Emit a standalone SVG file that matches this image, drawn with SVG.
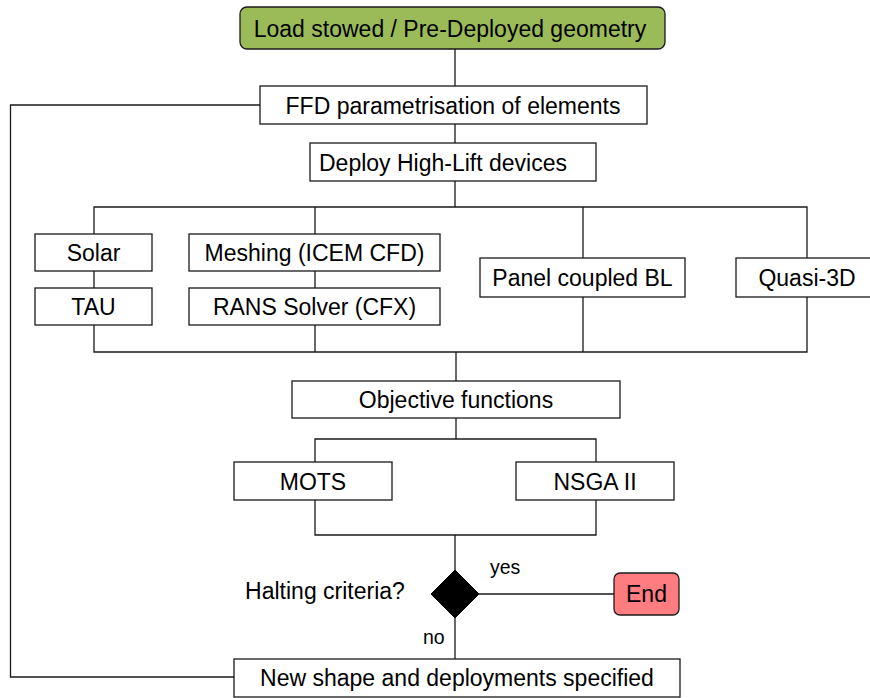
<svg xmlns="http://www.w3.org/2000/svg" width="870" height="698" viewBox="0 0 870 698">
<style>
.box{fill:#ffffff;stroke:#1a1a1a;stroke-width:1.3}
.t{font-family:"Liberation Sans",Arial,sans-serif;font-size:23px;fill:#000;text-anchor:middle}
.s{font-family:"Liberation Sans",Arial,sans-serif;font-size:19.5px;fill:#000}
.c{fill:none;stroke:#1a1a1a;stroke-width:1.3}
</style>
<rect width="870" height="698" fill="#ffffff"/>
<g id="connectors">
<path class="c" d="M455,49 V86 M455,124 V143 M455,181 V207"/>
<path class="c" d="M94,234 V207 H807 V258 M315,207 V234 M583,207 V258"/>
<path class="c" d="M94,271 V288 M315,271 V288"/>
<path class="c" d="M94,325 V352 H807 V297 M315,325 V352 M583,297 V352"/>
<path class="c" d="M456,352 V381 M456,418 V439"/>
<path class="c" d="M315,462 V439 H596 V462"/>
<path class="c" d="M315,500 V535 H596 V500 M455,535 V570"/>
<path class="c" d="M479,594 H614"/>
<path class="c" d="M455,618 V659"/>
<path class="c" d="M234,677 H10.5 V105 H260"/>
</g>
<g id="n-load"><rect x="240" y="7" width="425" height="42" rx="7" fill="#9BBB59" stroke="#1a1a1a" stroke-width="1.3"/><text class="t" x="450" y="36.5">Load stowed / Pre-Deployed geometry</text></g>
<g id="n-ffd"><rect class="box" x="260" y="86" width="387" height="38"/><text class="t" x="453" y="113.5">FFD parametrisation of elements</text></g>
<g id="n-deploy"><rect class="box" x="310" y="143" width="286" height="38"/><text class="t" x="443" y="170.5">Deploy High-Lift devices</text></g>
<g id="n-solar"><rect class="box" x="35" y="234" width="117" height="37"/><text class="t" x="93.5" y="260.5">Solar</text></g>
<g id="n-tau"><rect class="box" x="35" y="288" width="117" height="37"/><text class="t" x="93.5" y="314.5">TAU</text></g>
<g id="n-meshing"><rect class="box" x="189" y="234" width="251" height="37"/><text class="t" x="314.5" y="260.5">Meshing (ICEM CFD)</text></g>
<g id="n-rans"><rect class="box" x="189" y="288" width="251" height="37"/><text class="t" x="314.5" y="314.5">RANS Solver (CFX)</text></g>
<g id="n-panel"><rect class="box" x="480" y="258" width="205" height="39"/><text class="t" x="582.5" y="285.5">Panel coupled BL</text></g>
<g id="n-quasi"><rect class="box" x="736" y="258" width="142" height="39"/><text class="t" x="807" y="285.5">Quasi-3D</text></g>
<g id="n-objective"><rect class="box" x="292" y="381" width="328" height="37"/><text class="t" x="456" y="408">Objective functions</text></g>
<g id="n-mots"><rect class="box" x="234" y="462" width="158" height="38"/><text class="t" x="313" y="489.5">MOTS</text></g>
<g id="n-nsga"><rect class="box" x="516" y="462" width="158" height="38"/><text class="t" x="595" y="489.5">NSGA II</text></g>
<g id="n-halting"><path d="M455,570 L479,594 L455,618 L431,594 Z" fill="#000" stroke="#000" stroke-width="1"/><text class="t" x="325" y="598.5">Halting criteria?</text><text class="s" x="490" y="573.5">yes</text><text class="s" x="423" y="643.5">no</text></g>
<g id="n-end"><rect x="614" y="573" width="65" height="42" rx="6" fill="#FF7C80" stroke="#1a1a1a" stroke-width="1.3"/><text class="t" x="646.5" y="602">End</text></g>
<g id="n-new"><rect class="box" x="234" y="659" width="446" height="38"/><text class="t" x="457" y="686">New shape and deployments specified</text></g>
</svg>
